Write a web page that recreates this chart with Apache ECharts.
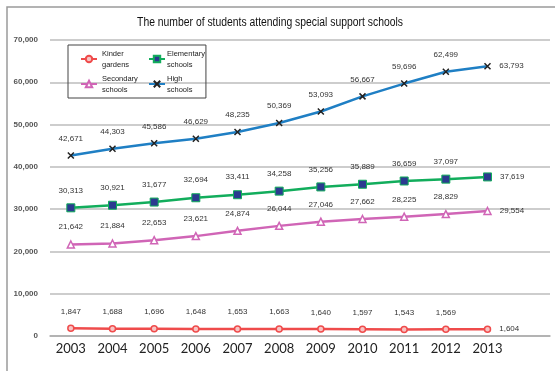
<!DOCTYPE html>
<html>
<head>
<meta charset="utf-8">
<script src="https://cdn.jsdelivr.net/npm/echarts@6/dist/echarts.min.js"></script>
<style>
  html, body { margin: 0; padding: 0; background: #fff; }
  #chart { width: 555px; height: 371px; }
</style>
</head>
<body>
<div id="chart"></div>
<script>
// School years shown along the bottom
const years = ['2003', '2004', '2005', '2006', '2007', '2008', '2009', '2010', '2011', '2012', '2013'];

// Students per school type
const kindergartens = [1847, 1688, 1696, 1648, 1653, 1663, 1640, 1597, 1543, 1569, 1604];
const elementary = [30313, 30921, 31677, 32694, 33411, 34258, 35256, 35889, 36659, 37097, 37619];
const secondary = [21642, 21884, 22653, 23621, 24874, 26044, 27046, 27662, 28225, 28829, 29554];
const highSchools = [42671, 44303, 45586, 46629, 48235, 50369, 53093, 56667, 59696, 62499, 63793];

// Value axis ticks
const yTicks = [0, 10000, 20000, 30000, 40000, 50000, 60000, 70000];

const chartTitle = 'The number of students attending special support schools';

const fmt = v => v.toLocaleString('en-US');

// one trailing empty slot leaves room on the right for the end labels
const axisCats = years.concat(['']);

function withEndLabel(values) {
  return values.map((v, i) => i === values.length - 1
    ? { value: v, label: { position: 'right', distance: 8 } }
    : v);
}

const labelStyle = {
  show: true,
  position: 'top',
  distance: 9,
  fontSize: 8,
  color: '#333',
  fontFamily: 'Liberation Sans, Arial, sans-serif',
  formatter: p => fmt(p.value)
};

const chart = echarts.init(document.getElementById('chart'), null, { renderer: 'canvas' });

chart.setOption({
  animation: false,
  backgroundColor: '#fff',
  graphic: [
    {
      type: 'rect',
      shape: { x: 7, y: 7, width: 600, height: 400 },
      style: { fill: 'none', stroke: '#9a9a9a', lineWidth: 1.5 },
      silent: true,
      z: -1
    },
    {
      // condensed heading
      type: 'text',
      x: 270,
      y: 16,
      scaleX: 0.83,
      originX: 0,
      style: {
        text: chartTitle,
        align: 'center',
        verticalAlign: 'top',
        fontSize: 12.5,
        fill: '#111',
        fontFamily: 'Liberation Sans, Arial, sans-serif'
      },
      silent: true
    }
  ],
  legend: {
    left: 68,
    top: 45,
    width: 140,
    padding: [3, 1, 3, 12],
    itemGap: 3,
    itemWidth: 16,
    itemHeight: 8,
    borderColor: '#444',
    borderWidth: 1,
    textStyle: {
      fontSize: 7.5,
      lineHeight: 11,
      color: '#222',
      fontFamily: 'Liberation Sans, Arial, sans-serif',
      width: 43
    },
    data: [
      { name: 'Kinder\ngardens' },
      { name: 'Elementary\nschools', textStyle: { width: 34, padding: [0, 0, 0, -3] } },
      { name: 'Secondary\nschools' },
      { name: 'High\nschools', textStyle: { width: 34, padding: [0, 0, 0, -3] } }
    ]
  },
  grid: { left: 50, right: 5, top: 40, bottom: 35 },
  xAxis: {
    type: 'category',
    data: axisCats,
    boundaryGap: true,
    axisLine: { lineStyle: { color: '#aaa', width: 1.5 } },
    axisTick: { show: false },
    axisLabel: {
      interval: 0,
      fontSize: 13,
      color: '#222',
      fontFamily: 'Lato, Open Sans, sans-serif',
      margin: 6
    }
  },
  yAxis: {
    type: 'value',
    min: yTicks[0],
    max: yTicks[yTicks.length - 1],
    interval: yTicks[1] - yTicks[0],
    axisLine: { show: false },
    axisTick: { show: false },
    splitLine: { lineStyle: { color: '#bdbdbd', width: 1.5 } },
    axisLabel: {
      fontSize: 8,
      fontWeight: 'bold',
      color: '#555',
      margin: 12,
      fontFamily: 'Liberation Sans, Arial, sans-serif',
      formatter: v => fmt(v)
    }
  },
  series: [
    {
      name: 'Kinder\ngardens',
      type: 'line',
      data: withEndLabel(kindergartens),
      symbol: 'circle',
      symbolSize: 6,
      lineStyle: { color: '#ef4b4b', width: 2.5 },
      itemStyle: { color: '#f7c4c4', borderColor: '#ef4b4b', borderWidth: 1.5 },
      label: labelStyle
    },
    {
      name: 'Elementary\nschools',
      type: 'line',
      data: withEndLabel(elementary),
      symbol: 'rect',
      symbolSize: 8,
      lineStyle: { color: '#12ad5c', width: 2.5 },
      itemStyle: { color: '#2b3a8f', borderColor: '#12ad5c', borderWidth: 1 },
      label: labelStyle
    },
    {
      name: 'Secondary\nschools',
      type: 'line',
      data: withEndLabel(secondary),
      symbol: 'triangle',
      symbolSize: 7,
      lineStyle: { color: '#d065b6', width: 2.5 },
      itemStyle: { color: '#ffffff', borderColor: '#d065b6', borderWidth: 1.5 },
      label: labelStyle
    },
    {
      name: 'High\nschools',
      type: 'line',
      data: withEndLabel(highSchools),
      symbol: 'path://M0,0L10,10M10,0L0,10',
      symbolSize: 6,
      lineStyle: { color: '#1f7fc4', width: 2.5 },
      itemStyle: { color: '#1f7fc4', borderColor: '#222', borderWidth: 1.5 },
      label: labelStyle
    }
  ]
});
</script>
</body>
</html>
